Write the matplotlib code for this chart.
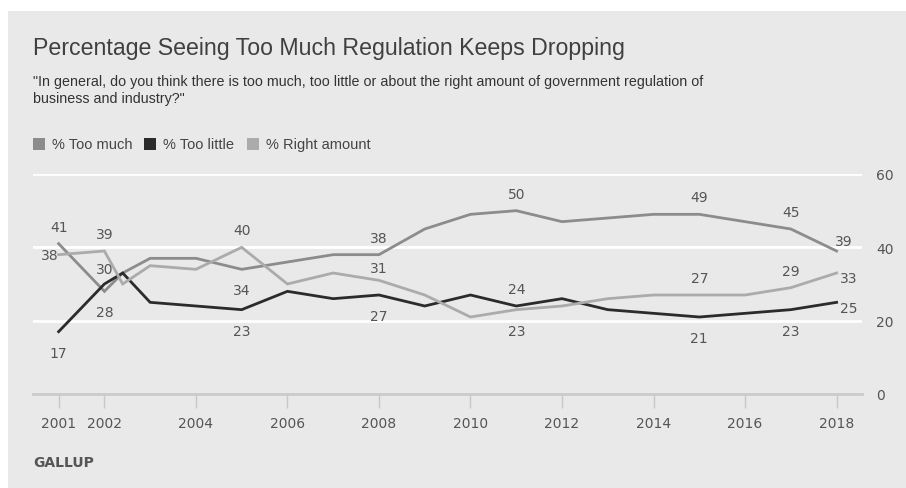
import matplotlib.pyplot as plt
from matplotlib.patches import Rectangle

# Dados
anos = [2001, 2002, 2002.4, 2003, 2004, 2005, 2006, 2007, 2008, 2009, 2010,
        2011, 2012, 2013, 2014, 2015, 2016, 2017, 2018]
too_much = [41, 28, 33, 37, 37, 34, 36, 38, 38, 45, 49, 50, 47, 48, 49, 49, 47, 45, 39]
too_little = [17, 30, 33, 25, 24, 23, 28, 26, 27, 24, 27, 24, 26, 23, 22, 21, 22, 23, 25]
right_amount = [38, 39, 30, 35, 34, 40, 30, 33, 31, 27, 21, 23, 24, 26, 27, 27, 27, 29, 33]

anos_ticks = [2001, 2002, 2004, 2006, 2008, 2010, 2012, 2014, 2016, 2018]
y_ticks = [0, 20, 40, 60]

series = {
    "too_much": (too_much, "#8c8c8c", "% Too much"),
    "too_little": (too_little, "#2b2b2b", "% Too little"),
    "right_amount": (right_amount, "#ababab", "% Right amount"),
}

# rótulos: (serie, ano, deslocamento x, deslocamento y) em pixels
rotulos = [
    ("too_much", 2001, 0, 17), ("right_amount", 2001, -9, 0), ("too_little", 2001, 0, -21),
    ("right_amount", 2002, 0, 17), ("too_little", 2002, 0, 15), ("too_much", 2002, 0, -21),
    ("right_amount", 2005, 0, 17), ("too_much", 2005, 0, -21), ("too_little", 2005, 0, -21),
    ("too_much", 2008, 0, 17), ("right_amount", 2008, 0, 12), ("too_little", 2008, 0, -21),
    ("too_much", 2011, 0, 17), ("too_little", 2011, 0, 17), ("right_amount", 2011, 0, -21),
    ("too_much", 2015, 0, 17), ("right_amount", 2015, 0, 17), ("too_little", 2015, 0, -21),
    ("too_much", 2017, 0, 17), ("right_amount", 2017, 0, 17), ("too_little", 2017, 0, -21),
    ("too_much", 2018, 7, 10), ("right_amount", 2018, 12, -5), ("too_little", 2018, 12, -6),
]

bg = "#e9e9e9"
cor_texto = "#555555"
fonte = ["Liberation Sans", "DejaVu Sans"]

fig = plt.figure(figsize=(9.06, 4.89), dpi=100)
fig.patch.set_facecolor("white")
fig.patches.append(Rectangle((8 / 906, 0), 1, 1 - 12 / 489, transform=fig.transFigure,
                             facecolor=bg, edgecolor="none", zorder=-10))

ax = fig.add_axes([33 / 906, 1 - 395 / 489, 829 / 906, 220 / 489])
ax.set_facecolor(bg)
for s in ax.spines.values():
    s.set_visible(False)

for chave, (valores, cor, nome) in series.items():
    ax.plot(anos, valores, color=cor, lw=2, solid_joinstyle="miter", zorder=3)

for chave, ano, dx, dy in rotulos:
    valores = series[chave][0]
    v = valores[anos.index(ano)]
    ax.annotate(str(v), (ano, v), xytext=(dx, dy), textcoords="offset pixels",
                ha="center", va="center", fontsize=10, color=cor_texto, zorder=4,
                annotation_clip=False)

ax.set_xlim(2000.44, 2018.555)
ax.set_ylim(0, 60)
ax.set_yticks(y_ticks)
ax.yaxis.tick_right()
ax.tick_params(axis="y", length=0, pad=10, labelsize=10, labelcolor=cor_texto)
ax.set_xticks(anos_ticks)
ax.tick_params(axis="x", length=10, width=1, color="#c8c8c8", pad=6,
               labelsize=10, labelcolor=cor_texto)
for y in y_ticks[1:]:
    ax.axhline(y, color="white", lw=2, zorder=1)
ax.axhline(0, color="#cbcbcb", lw=2, zorder=1, clip_on=False)

fig.text(33 / 906, 1 - 48 / 489, "Percentage Seeing Too Much Regulation Keeps Dropping",
         family=fonte, fontsize=16.7, color="#404040", va="center")
fig.text(33 / 906, 1 - 82 / 489,
         "\"In general, do you think there is too much, too little or about the right amount of government regulation of",
         family=fonte, fontsize=10.25, color="#333333", va="center")
fig.text(33 / 906, 1 - 99 / 489, "business and industry?\"",
         family=fonte, fontsize=10.25, color="#333333", va="center")

# legenda manual
leg_x = [33, 144, 247]
for x0, (chave, (valores, cor, nome)) in zip(leg_x, series.items()):
    fig.patches.append(Rectangle((x0 / 906, 1 - 151 / 489), 12 / 906, 12 / 489,
                                 transform=fig.transFigure, facecolor=cor, edgecolor="none"))
    fig.text((x0 + 19) / 906, 1 - 145 / 489, nome, family=fonte, fontsize=10.5,
             color="#444444", va="center")

fig.text(33 / 906, 1 - 463 / 489, "GALLUP", fontsize=10, fontweight="bold",
         color=cor_texto, va="center")

fig.savefig("out.png", dpi=100, facecolor=fig.get_facecolor())
